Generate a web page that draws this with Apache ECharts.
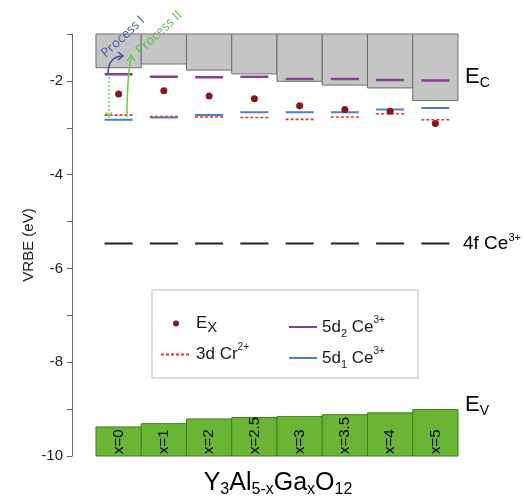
<!DOCTYPE html>
<html><head><meta charset="utf-8">
<script src="https://cdn.jsdelivr.net/npm/echarts@6/dist/echarts.min.js"></script>
<style>html,body{margin:0;padding:0;background:#fff}#c{width:524px;height:502px}</style>
</head><body><div id="c"></div>
<script>
const compositions = ['0','1','2','2.5','3','3.5','4','5'];
const conductionBand = [-1.72,-1.64,-1.77,-1.85,-2.01,-2.09,-2.15,-2.42];
const valenceBand = [-9.38,-9.31,-9.21,-9.18,-9.16,-9.12,-9.08,-9.01];
const ce5d2 = [-1.86,-1.91,-1.92,-1.91,-1.96,-1.96,-1.98,-1.99];
const ce5d1 = [-2.83,-2.78,-2.73,-2.67,-2.67,-2.67,-2.61,-2.58];
const cr3d = [-2.73,-2.76,-2.77,-2.78,-2.82,-2.77,-2.70,-2.83];
const excitonEx = [-2.28,-2.21,-2.32,-2.38,-2.53,-2.61,-2.65,-2.91];
const ce4f = [-5.47,-5.47,-5.47,-5.47,-5.47,-5.47,-5.47,-5.47];
const yTickLabels = [-10,-8,-6,-4,-2];

const FONT = 'Liberation Sans, Arial, sans-serif';
const HALF = 0.31;
function segs(vals){
  const d = [];
  vals.forEach((v,i)=>{ d.push([i-HALF,v],[i+HALF,v],[NaN,NaN]); });
  return d;
}
const chart = echarts.init(document.getElementById('c'), null, {renderer:'canvas'});
const rich = {
  m:{fontSize:17, lineHeight:24, color:'#1a1a1a', fontFamily:FONT},
  s:{fontSize:11, lineHeight:8, verticalAlign:'bottom', color:'#1a1a1a', fontFamily:FONT},
  sx:{fontSize:15, lineHeight:10, verticalAlign:'bottom', color:'#1a1a1a', fontFamily:FONT},
  sp:{fontSize:10, lineHeight:8, verticalAlign:'top', color:'#1a1a1a', fontFamily:FONT}
};
const legendFmt = {
  'E_X':'{m|E}{sx|X}',
  '3d Cr2+':'{m|3d Cr}{sp|2+}',
  '5d2 Ce3+':'{m|5d}{s|2}{m| Ce}{sp|3+}',
  '5d1 Ce3+':'{m|5d}{s|1}{m| Ce}{sp|3+}'
};
const legendBase = {
  orient:'vertical', top:310, itemWidth:30, itemHeight:6, itemGap:7,
  formatter: n => legendFmt[n], textStyle:{rich:rich}, selectedMode:false
};
const hideSym = {opacity:0};
chart.setOption({
  animation:false,
  grid:{left:72, right:66, top:34, bottom:46},
  xAxis:{type:'value', min:-1.03, max:7.5, show:false},
  yAxis:{type:'value', min:-10, max:-1, interval:1,
    axisLine:{show:true, onZero:false, lineStyle:{color:'#666', width:1}},
    axisTick:{show:true, length:5, lineStyle:{color:'#666'}},
    axisLabel:{formatter: v => yTickLabels.includes(v) ? String(v) : '', fontSize:15, color:'#222', margin:9, fontFamily:FONT},
    splitLine:{show:false},
    name:'VRBE (eV)', nameLocation:'middle', nameGap:36, nameMoveOverlap:false,
    nameTextStyle:{fontSize:15, color:'#222', fontFamily:FONT}
  },
  legend:[
    Object.assign({}, legendBase, {left:155, data:['E_X', {name:'3d Cr2+', itemStyle:hideSym}]}),
    Object.assign({}, legendBase, {left:283, itemWidth:28, data:[{name:'5d2 Ce3+', itemStyle:hideSym}, {name:'5d1 Ce3+', itemStyle:hideSym}]})
  ],
  graphic:[
    {type:'rect', shape:{x:152, y:290, width:266, height:88}, style:{fill:'none', stroke:'#d2d2d2', lineWidth:1.5}, z:1},
    {type:'text', x:465, y:77, style:{text:'{m|E}{s|C}', rich:{m:{fontSize:22, lineHeight:26, fontFamily:FONT, color:'#1a1a1a'}, s:{fontSize:14, lineHeight:12, verticalAlign:'bottom', fontFamily:FONT, color:'#1a1a1a'}}, verticalAlign:'middle'}},
    {type:'text', x:465, y:405, style:{text:'{m|E}{s|V}', rich:{m:{fontSize:22, lineHeight:26, fontFamily:FONT, color:'#1a1a1a'}, s:{fontSize:14, lineHeight:10, verticalAlign:'bottom', fontFamily:FONT, color:'#1a1a1a'}}, verticalAlign:'middle'}},
    {type:'text', x:463, y:244, style:{text:'{m|4f Ce}{sp|3+}', rich:{m:{fontSize:19, lineHeight:24, fontFamily:FONT, color:'#1a1a1a'}, sp:{fontSize:11, lineHeight:8, verticalAlign:'top', fontFamily:FONT, color:'#1a1a1a'}}, verticalAlign:'middle'}},
    {type:'text', x:278, y:483, style:{text:'{m|Y}{s|3}{m|Al}{s|5-x}{m|Ga}{s|x}{m|O}{s|12}', align:'center', verticalAlign:'middle',
      rich:{m:{fontSize:25, lineHeight:30, fontFamily:FONT, color:'#1a1a1a'}, s:{fontSize:16, lineHeight:10, verticalAlign:'bottom', fontFamily:FONT, color:'#1a1a1a'}}}},
    // process annotations
    {type:'line', shape:{x1:109, y1:77, x2:109, y2:115}, style:{stroke:'#6ccc4c', lineWidth:1.5, lineDash:[2,2]}, z:20},
    {type:'polyline', shape:{points:[[106,112],[109,117],[112,112]]}, style:{stroke:'#6ccc4c', lineWidth:1.2, fill:'none'}, z:20},
    {type:'bezierCurve', shape:{x1:108, y1:74, cpx1:108, cpy1:57, x2:122, y2:56}, style:{stroke:'#3f4f9a', lineWidth:1.5, fill:'none'}, z:20},
    {type:'polyline', shape:{points:[[118,52],[123,56],[118,60]]}, style:{stroke:'#3f4f9a', lineWidth:1.5, fill:'none'}, z:20},
    {type:'bezierCurve', shape:{x1:127, y1:117, cpx1:127, cpy1:80, x2:131, y2:57}, style:{stroke:'#6ccc4c', lineWidth:1.5, fill:'none'}, z:20},
    {type:'polyline', shape:{points:[[127,61],[131,55],[135,61]]}, style:{stroke:'#6ccc4c', lineWidth:1.5, fill:'none'}, z:20},
    {type:'text', x:123, y:37, rotation:43*Math.PI/180, style:{text:'Process I', fill:'#4b5aa6', font:'13px "Open Sans", sans-serif', align:'center', verticalAlign:'middle'}, z:20},
    {type:'text', x:159, y:33, rotation:43*Math.PI/180, style:{text:'Process II', fill:'#5cc04a', font:'13px "Open Sans", sans-serif', align:'center', verticalAlign:'middle'}, z:20}
  ],
  series:[
    {type:'custom', name:'CB', silent:true, z:1,
      data: conductionBand.map((v,i)=>[i, -1, v]),
      renderItem:(params, api)=>{
        const i = api.value(0);
        const p1 = api.coord([i-0.5, api.value(1)]);
        const p2 = api.coord([i+0.5, api.value(2)]);
        return {type:'rect', shape:{x:p1[0], y:p1[1], width:p2[0]-p1[0], height:p2[1]-p1[1]},
          style:{fill:'#c5c5c5', stroke:'#6e6e6e', lineWidth:1}};
      }},
    {type:'custom', name:'VB', silent:true, z:1,
      data: valenceBand.map((v,i)=>[i, v, -10]),
      renderItem:(params, api)=>{
        const i = api.value(0);
        const p1 = api.coord([i-0.5, api.value(1)]);
        const p2 = api.coord([i+0.5, api.value(2)]);
        const pt = api.coord([i, -9.96]);
        return {type:'group', children:[
          {type:'rect', shape:{x:p1[0], y:p1[1], width:p2[0]-p1[0], height:p2[1]-p1[1]},
            style:{fill:'#6ab634', stroke:'#3f7d1f', lineWidth:1}},
          {type:'text', x:pt[0], y:pt[1], rotation:Math.PI/2,
            style:{text:'x='+compositions[params.dataIndex], fill:'#000', font:'15px '+FONT, align:'left', verticalAlign:'middle'}}
        ]};
      }},
    {type:'line', name:'4f', data:segs(ce4f), symbol:'none', silent:true, z:3,
      lineStyle:{color:'#222', width:2}},
    {type:'line', name:'5d1 Ce3+', data:segs(ce5d1), symbol:'none', silent:true, z:3,
      lineStyle:{color:'#4f7fc4', width:2}, itemStyle:{color:'#4f7fc4'}},
    {type:'line', name:'3d Cr2+', data:segs(cr3d), symbol:'none', silent:true, z:4,
      lineStyle:{color:'#e5352d', width:1.6, type:[3,2]}, itemStyle:{color:'#e5352d'}},
    {type:'line', name:'5d2 Ce3+', data:segs(ce5d2), symbol:'none', silent:true, z:4,
      lineStyle:{color:'#8a3d96', width:2.5}, itemStyle:{color:'#8a3d96'}},
    {type:'scatter', name:'E_X', data:excitonEx.map((v,i)=>[i,v]), symbolSize:7, silent:true, z:5,
      itemStyle:{color:'#861720', opacity:1}}
  ]
});
</script></body></html>
